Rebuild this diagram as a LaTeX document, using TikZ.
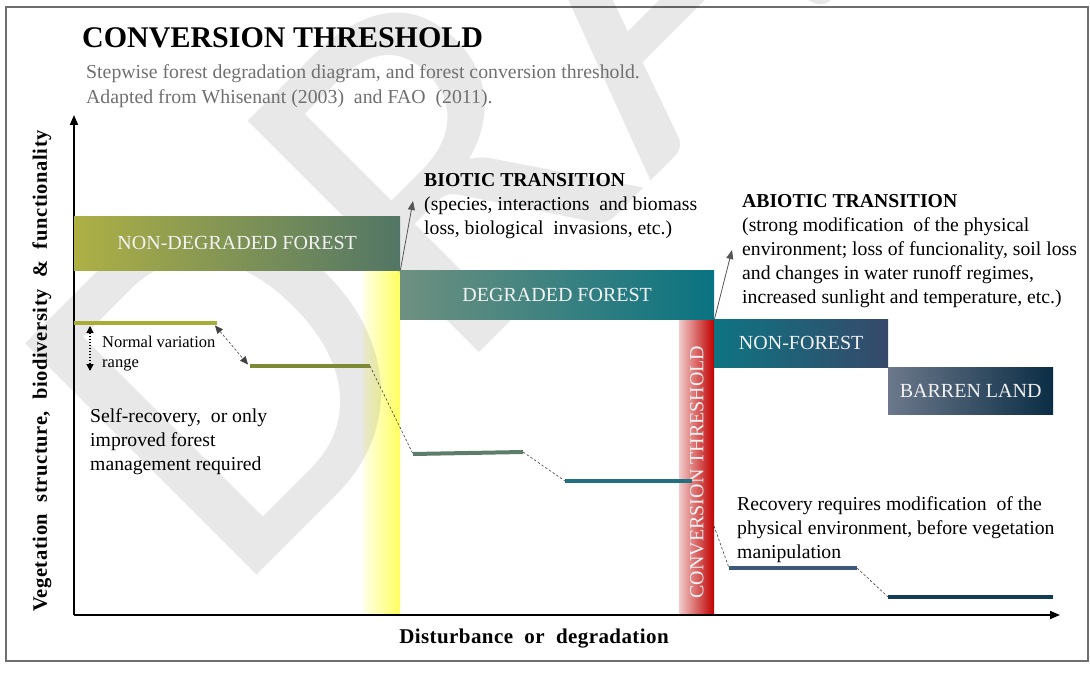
\documentclass[tikz,border=0pt]{standalone}
\usepackage{fontspec}
\setmainfont{Liberation Serif}
\newfontfamily\wmfont{Carlito}
\usetikzlibrary{arrows.meta}
\definecolor{framegray}{HTML}{6E6E6E}
\definecolor{subgray}{HTML}{707070}
\definecolor{ndfL}{HTML}{AEB045}
\definecolor{ndfM}{HTML}{6E8A5F}
\definecolor{ndfR}{HTML}{527666}
\definecolor{dfL}{HTML}{6E9080}
\definecolor{dfR}{HTML}{0A7381}
\definecolor{nfL}{HTML}{0E7482}
\definecolor{nfM}{HTML}{5A7088}
\definecolor{nfR}{HTML}{36496A}
\definecolor{blL}{HTML}{6C788B}
\definecolor{blM}{HTML}{2A4560}
\definecolor{blR}{HTML}{0A2D45}
\definecolor{yelL}{HTML}{FFFFE8}
\definecolor{yelR}{HTML}{FFFF5E}
\definecolor{redL}{HTML}{F2CACA}
\definecolor{redM}{HTML}{D43030}
\definecolor{redR}{HTML}{C00000}
\definecolor{boxtext}{HTML}{F2F2F2}
\definecolor{stepA}{HTML}{A8AD36}
\definecolor{stepB}{HTML}{7E8936}
\definecolor{stepC}{HTML}{5C7D69}
\definecolor{stepD}{HTML}{21707F}
\definecolor{stepE}{HTML}{3E5877}
\definecolor{stepF}{HTML}{123B55}
\definecolor{arrowgray}{HTML}{555555}
\tikzset{
  stagebox/.style={rectangle, anchor=north west, inner sep=0pt, text=boxtext,
    font=\fontsize{20}{22}\selectfont},
  steplink/.style={line width=4pt},
  dashlink/.style={dashed, dash pattern=on 2.5pt off 2pt, line width=0.6pt, draw=black!75},
  transarrow/.style={draw=arrowgray, line width=0.8pt, -{Triangle[length=9pt,width=7pt]}},
  axisline/.style={line width=1.8pt, -{Triangle[length=10pt,width=8pt]}},
  bodytext/.style={anchor=base west, inner sep=0pt, align=left,
    font=\fontsize{19.7}{24}\selectfont},
}
\begin{document}
\begin{tikzpicture}[x=1pt,y=-1pt]
\useasboundingbox (0,0) rectangle (1090,698);
\fill[white] (0,0) rectangle (1090,698);
% frame
\draw[framegray, line width=2pt] (6,7) rectangle (1088,661);
% bands
\shade[left color=yelL, right color=yelR] (363,270) rectangle (400,613);
\shade[left color=redL, middle color=redM, right color=redR] (679,319) rectangle (714,613);
% watermark
\node[anchor=base west, rotate=45, inner sep=0pt, text=black, text opacity=0.09,
  font=\wmfont\fontsize{510}{510}\selectfont] (wm) at (232,600) {DRAFT};
% title
\node[anchor=base west, inner sep=0pt, font=\fontsize{30}{36}\selectfont\bfseries] (title) at (82,48) {CONVERSION THRESHOLD};
\node[anchor=base west, inner sep=0pt, align=left, text=subgray, font=\fontsize{19.8}{25}\selectfont] (sub) at (86,104)
  {Stepwise forest degradation diagram, and forest conversion threshold.\\Adapted from Whisenant (2003)\ \ and FAO\ \ (2011).};
% axes
\coordinate (O) at (74,615);
\coordinate (ytop) at (74,115);
\coordinate (xend) at (1060,615);
\draw[axisline] (O) -- (ytop);
\draw[axisline] (O) -- (xend);
\node[rotate=90, inner sep=0pt, font=\fontsize{20.5}{24}\selectfont\bfseries\addfontfeature{LetterSpace=3}] (ylab) at (42,371) {Vegetation\ \ structure,\ \ biodiversity\ \ \&\ \ functionality};
\node[inner sep=0pt, anchor=base, font=\fontsize{21}{24}\selectfont\bfseries\addfontfeature{LetterSpace=2}] (xlab) at (534,643) {Disturbance\ \ or\ \ degradation};
% stage boxes
\node[stagebox, minimum width=326pt, minimum height=54pt, left color=ndfL, middle color=ndfM, right color=ndfR] (ndf) at (74,216) {NON-DEGRADED FOREST};
\node[stagebox, minimum width=314pt, minimum height=49pt, left color=dfL, right color=dfR] (df) at (400,270) {DEGRADED FOREST};
\node[stagebox, minimum width=174pt, minimum height=48pt, left color=nfL, middle color=nfM, right color=nfR] (nf) at (714,319) {NON-FOREST};
\node[stagebox, minimum width=165pt, minimum height=47pt, left color=blL, middle color=blM, right color=blR] (bl) at (888,367) {BARREN LAND};
% conversion threshold label
\node[rotate=90, inner sep=0pt, text=boxtext, font=\fontsize{20}{22}\selectfont] (ctl) at (697,472) {CONVERSION THRESHOLD};
% transition arrows
\coordinate (btip) at (413,201);
\coordinate (atip) at (732,250);
\draw[transarrow] (ndf.north east |- df.north west) -- (btip);
\draw[transarrow] (df.south east) -- (atip);
\node[bodytext] (bt) at (424,234) {\textbf{BIOTIC TRANSITION}\\(species, interactions\ \ and biomass\\loss, biological\ \ invasions, etc.)};
\node[bodytext] (at) at (742,303) {\textbf{ABIOTIC TRANSITION}\\(strong modification\ \ of the physical\\environment; loss of funcionality, soil loss\\and changes in water runoff regimes,\\increased sunlight and temperature, etc.)};
% step lines
\coordinate (s1a) at (74,323); \coordinate (s1b) at (217,323);
\coordinate (s2a) at (250,366); \coordinate (s2b) at (370,366);
\coordinate (s3a) at (413,454); \coordinate (s3b) at (523,452);
\coordinate (s4a) at (565,481); \coordinate (s4b) at (692,481);
\coordinate (s5a) at (729,568); \coordinate (s5b) at (857,568);
\coordinate (s6a) at (888,597); \coordinate (s6b) at (1053,597);
\coordinate (r1) at (714,526);
\draw[steplink, stepA] (s1a) -- (s1b);
\draw[steplink, stepB] (s2a) -- (s2b);
\draw[steplink, stepC] (s3a) -- (s3b);
\draw[steplink, stepD] (s4a) -- (s4b);
\draw[steplink, stepE] (s5a) -- (s5b);
\draw[steplink, stepF] (s6a) -- (s6b);
% dashed links
\draw[dashlink, {Triangle[length=8pt,width=7pt]}-{Triangle[length=8pt,width=7pt]}] ([shift={(-2,2.5)}]s1b) -- ([shift={(-2,-1.5)}]s2a);
\draw[dashlink] (s2b) -- (s3a);
\draw[dashlink] (s3b) -- (s4a);
\draw[dashlink] (r1) -- (s5a);
\draw[dashlink] (s5b) -- (s6a);
% normal variation range
\coordinate (nv1) at (90,326);
\coordinate (nv2) at (90,371);
\draw[line width=1.4pt, dash pattern=on 1.5pt off 1.5pt, {Triangle[length=7pt,width=7pt]}-{Triangle[length=7pt,width=7pt]}] (nv1) -- (nv2);
\node[bodytext, font=\fontsize{16.5}{20}\selectfont] (nvr) at (102,367) {Normal variation\\range};
% recovery texts
\node[bodytext] (selfr) at (90,470) {Self-recovery,\ \ or only\\improved forest\\management required};
\node[bodytext] (recov) at (737,558) {Recovery requires modification\ \ of the\\physical environment, before vegetation\\manipulation};
\end{tikzpicture}
\end{document}
